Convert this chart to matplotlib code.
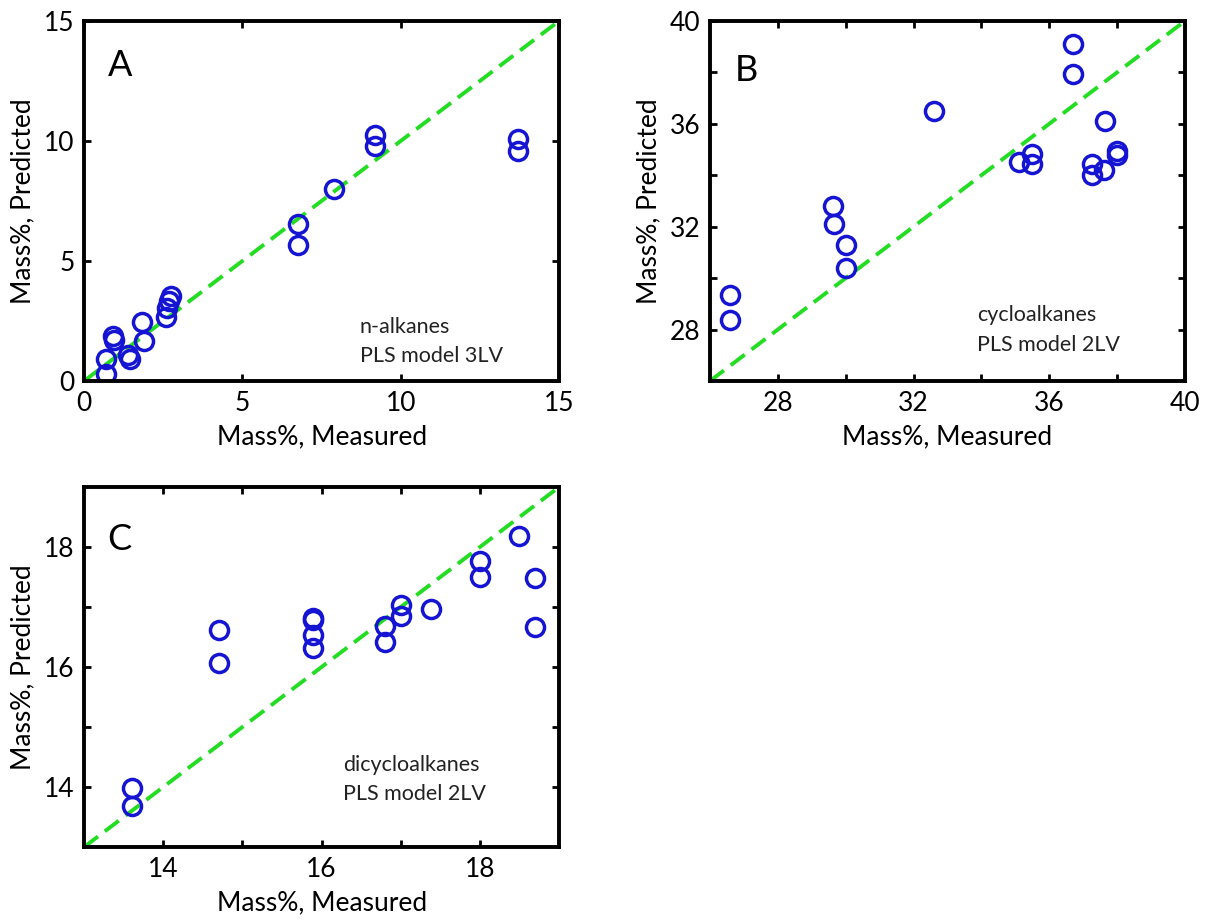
import matplotlib
matplotlib.use('Agg')
import matplotlib.pyplot as plt

plt.rcParams['font.family'] = ['Lato', 'DejaVu Sans']

# panel A: n-alkanes
a_meas = [0.7, 0.7, 0.9, 0.93, 1.4, 1.45, 1.82, 1.88, 2.6, 2.63, 2.67, 2.73,
          6.76, 6.76, 7.9, 9.2, 9.2, 13.7, 13.7]
a_pred = [0.3, 0.9, 1.88, 1.72, 1.1, 0.9, 2.44, 1.67, 2.65, 3.03, 3.35, 3.56,
          6.52, 5.65, 8.0, 10.25, 9.77, 10.1, 9.6]

# panel B: cycloalkanes
b_meas = [26.6, 26.6, 29.64, 29.66, 30.0, 30.0, 32.6, 36.7, 36.7, 35.1, 35.5,
          35.5, 37.27, 37.27, 37.6, 37.65, 38.0, 38.0]
b_pred = [29.36, 28.39, 32.8, 32.12, 31.28, 30.4, 36.51, 39.11, 37.92, 34.5,
          34.82, 34.44, 34.43, 34.0, 34.2, 36.12, 34.96, 34.77]

# panel C: dicycloalkanes
c_meas = [13.61, 13.61, 14.7, 14.7, 15.89, 15.89, 15.89, 15.89, 16.8, 16.8,
          17.0, 17.0, 17.38, 18.0, 18.0, 18.49, 18.69, 18.69]
c_pred = [13.99, 13.69, 16.61, 16.07, 16.82, 16.78, 16.54, 16.32, 16.68,
          16.42, 17.03, 16.85, 16.97, 17.76, 17.5, 18.18, 17.49, 16.67]

panels = [
    dict(pos=[0.0697, 0.5868, 0.3939, 0.3905], x=a_meas, y=a_pred, lim=(0, 15),
         ticks=[0, 5, 10, 15], labels=['0', '5', '10', '15'], letter='A',
         note='n-alkanes\nPLS model 3LV', lpos=(0.05, 0.875), npos=(0.58, 0.11)),
    dict(pos=[0.5887, 0.5868, 0.3939, 0.3905], x=b_meas, y=b_pred, lim=(26, 40),
         ticks=[28, 30, 32, 34, 36, 38, 40], labels=['28', '', '32', '', '36', '', '40'],
         letter='B', note='cycloalkanes\nPLS model 2LV', lpos=(0.053, 0.862),
         npos=(0.5625, 0.142)),
    dict(pos=[0.0697, 0.0813, 0.3939, 0.3905], x=c_meas, y=c_pred, lim=(13, 19),
         ticks=[14, 15, 16, 17, 18], labels=['14', '', '16', '', '18'], letter='C',
         note='dicycloalkanes\nPLS model 2LV', lpos=(0.048, 0.853),
         npos=(0.545, 0.188)),
]

fig = plt.figure(figsize=(12.06, 9.22), dpi=100)
for p in panels:
    ax = fig.add_axes(p['pos'])
    lo, hi = p['lim']
    ax.plot([lo, hi], [lo, hi], '--', color='#22dd22', lw=2.8, dashes=(4.5, 2.2))
    ax.plot(p['x'], p['y'], 'o', mfc='none', mec='#1414d2', ms=13, mew=2.5)
    ax.set_xlim(lo, hi)
    ax.set_ylim(lo, hi)
    ax.set_xticks(p['ticks'])
    ax.set_xticklabels(p['labels'])
    ax.set_yticks(p['ticks'])
    ax.set_yticklabels(p['labels'])
    ax.tick_params(direction='in', length=5, width=2, top=True, right=True,
                   labelsize=19, pad=7)
    for s in ax.spines.values():
        s.set_linewidth(2.8)
    ax.set_xlabel('Mass%, Measured', fontsize=19, labelpad=6)
    ax.set_ylabel('Mass%, Predicted', fontsize=19, labelpad=6)
    ax.text(p['lpos'][0], p['lpos'][1], p['letter'], transform=ax.transAxes,
            fontsize=26, va='center', ha='left')
    ax.text(p['npos'][0], p['npos'][1], p['note'], transform=ax.transAxes,
            fontsize=15.5, va='center', ha='left', color='#222222', linespacing=1.6)

fig.savefig('out.png', dpi=100)
